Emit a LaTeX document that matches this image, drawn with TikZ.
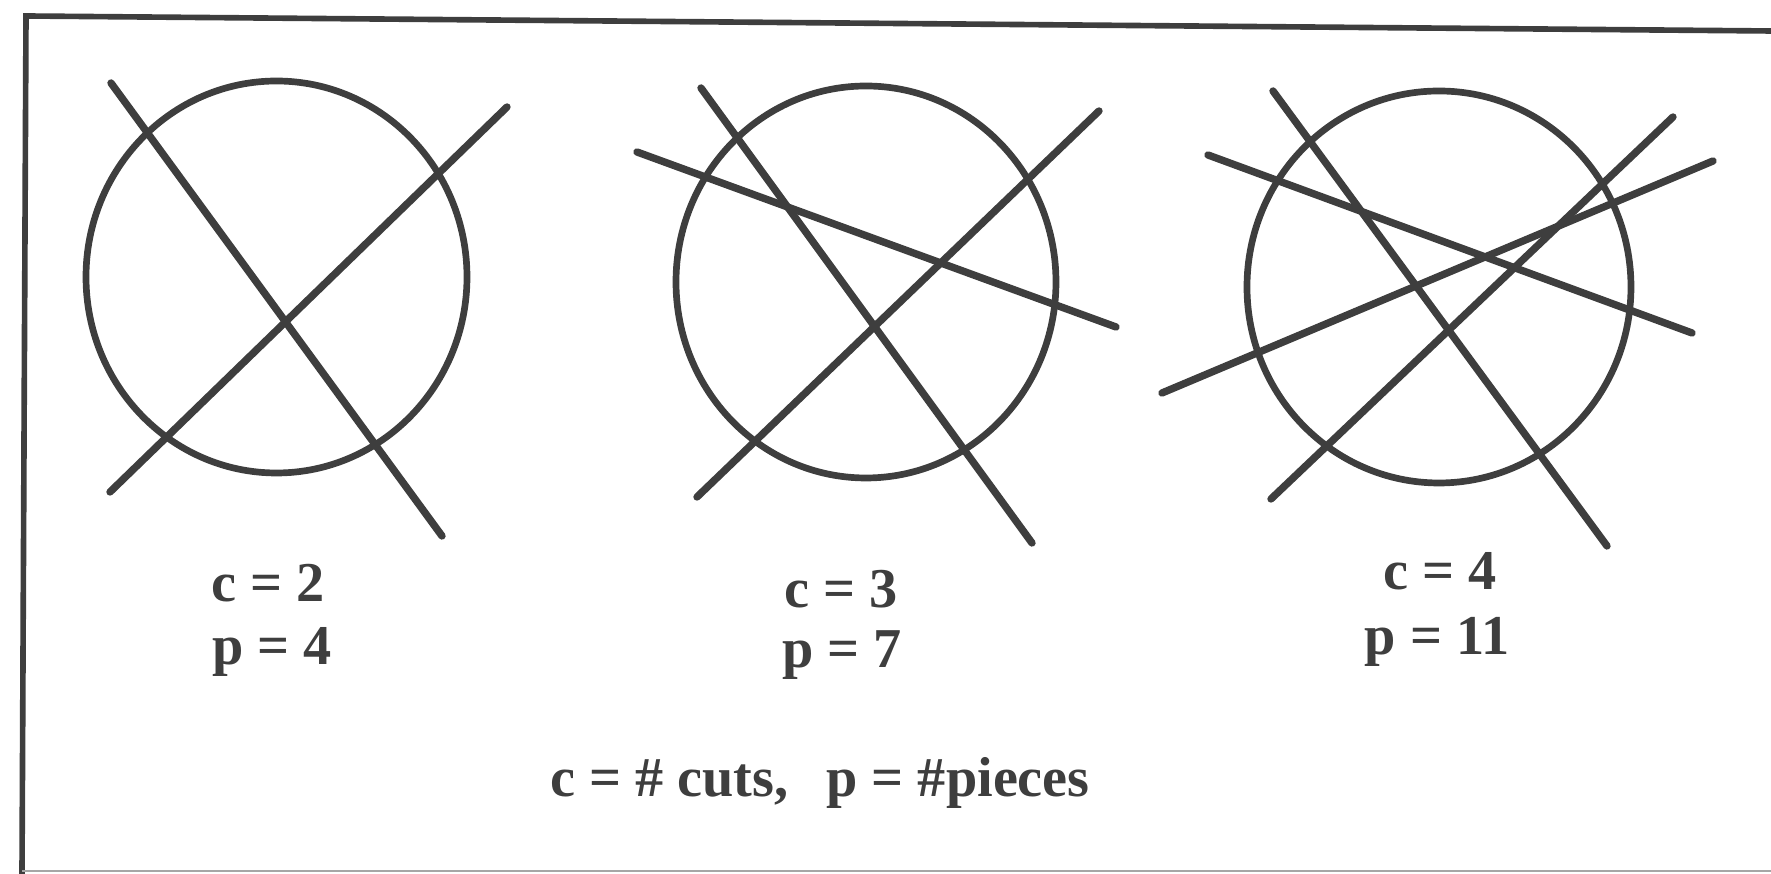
\documentclass[tikz,border=0pt]{standalone}
\usepackage{fontspec}
\setmainfont{Liberation Serif}
\definecolor{inkgray}{RGB}{62,62,62}
\newcommand{\cake}[4]{%
  \draw[inkgray,line width=1.9pt] (#1,#2) ellipse [x radius=#3, y radius=#4];
}
\newcommand{\cut}[2]{%
  \draw[inkgray,line width=2.1pt,line cap=round] #1 -- #2;
}

\begin{document}
\begin{tikzpicture}[x=.01cm,y=-.01cm,font=\fontsize{16}{19}\selectfont\bfseries,
    tag/.style={anchor=base,text=inkgray,inner sep=0pt}]
  \useasboundingbox (0,0) rectangle (1771,874);
  % frame
  \draw[inkgray,line width=1.6pt] (22,874) -- (26,16) -- (1771,31);
  \draw[black!35,line width=.8pt] (22,871) -- (1771,871);
  % two cuts
  \cake{276.5}{277}{190.5}{196}
  \cut{(111,83)}{(442,536)}
  \cut{(110,492)}{(507,107)}
  % three cuts
  \cake{866}{282}{190}{196}
  \cut{(701,88)}{(1032,543)}
  \cut{(697,497)}{(1099,111)}
  \cut{(637,152)}{(1116,327)}
  % four cuts
  \cake{1439}{287}{192}{196}
  \cut{(1273,91)}{(1607,546)}
  \cut{(1271,499)}{(1673,117)}
  \cut{(1208,155)}{(1692,333)}
  \cut{(1162,393)}{(1713,161)}
  % counts
  \node[tag] (c2) at (268,602) {c = 2};
  \node[tag] (p4) at (272,665) {p = 4};
  \node[tag] (c3) at (841,608) {c = 3};
  \node[tag] (p7) at (842,668) {p = 7};
  \node[tag] (c4) at (1440,590) {c = 4};
  \node[tag] (p11) at (1437,655) {p = 11};
  \node[tag] (key) at (820,797) {c = \# cuts,\hspace{.38cm}p = \#pieces};
\end{tikzpicture}
\end{document}
